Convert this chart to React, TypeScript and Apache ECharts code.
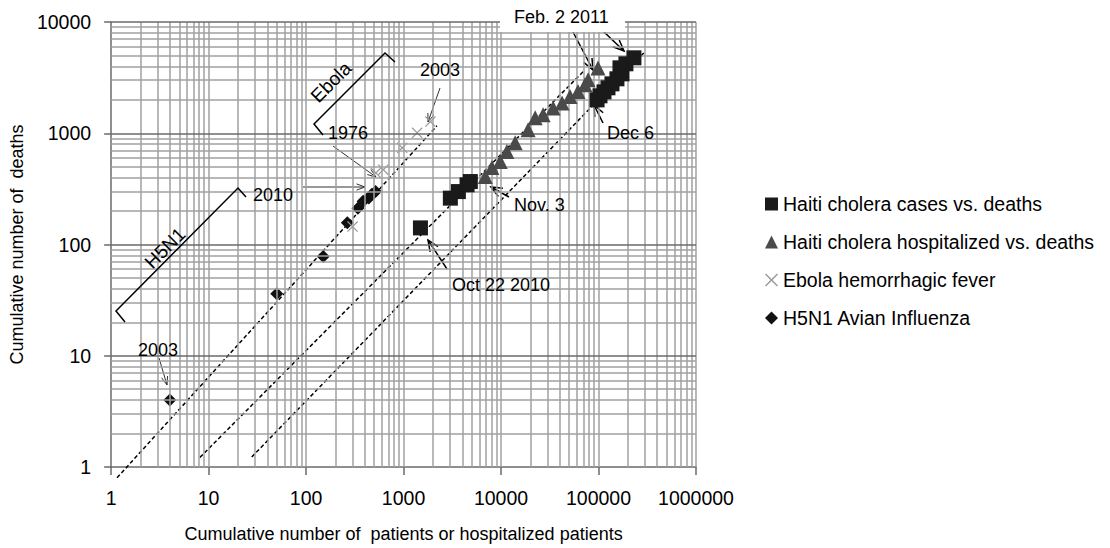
import React, { useEffect, useRef } from "react";
import * as echarts from "echarts";

// ---- data ----
const casesVsDeaths: [number, number][] = [
  [1490, 141], [3020, 261], [3650, 299], [4480, 344], [4840, 368],
  [96600, 1995], [103500, 2170], [113800, 2355], [125000, 2560], [137400, 2780],
  [154500, 3085], [166000, 3873], [174000, 3420], [191000, 4210], [230800, 4765],
];
const hospitalizedVsDeaths: [number, number][] = [
  [6890, 408], [8070, 491], [9820, 557], [11480, 685], [13970, 820],
  [18970, 1073], [22390, 1376], [27040, 1463], [34200, 1690], [42300, 1875],
  [51000, 2138], [61600, 2370], [72700, 2723], [78200, 3020], [98800, 3850],
];
const ebola: [number, number][] = [
  [300, 145], [520, 440], [620, 470], [968, 739], [1377, 1009], [1885, 1274],
];
const h5n1: [number, number][] = [
  [4, 4], [50, 36], [150, 78], [265, 157], [340, 212], [385, 245], [440, 262], [470, 282], [516, 299],
];
const trendOutbreaks: [number, number][] = [[1.15, 0.8], [2200, 1167]];
const trendHospitalized: [number, number][] = [[8.15, 1.22], [69900, 3590]];
const trendCases: [number, number][] = [[27.7, 1.23], [299000, 5395]];

const seriesNames = [
  "Haiti cholera cases vs. deaths",
  "Haiti cholera hospitalized vs. deaths",
  "Ebola hemorrhagic fever",
  "H5N1 Avian Influenza",
];
const xDecades = [1, 10, 100, 1000, 10000, 100000];
const yDecades = [1, 10, 100, 1000];
const multiples = [2, 3, 4, 5, 6, 7, 8, 9, 10];

const FONT = "'Liberation Sans', Arial, sans-serif";
const X_SHAPE = "path://M0,0.8 L0.8,0 L5,4.2 L9.2,0 L10,0.8 L5.8,5 L10,9.2 L9.2,10 L5,5.8 L0.8,10 L0,9.2 L4.2,5 Z";

function arrow(x1: number, y1: number, x2: number, y2: number, head: number, width: number, color: string, spread: number) {
  const ang = Math.atan2(y2 - y1, x2 - x1);
  const l = [x2 - head * Math.cos(ang - spread), y2 - head * Math.sin(ang - spread)];
  const r = [x2 - head * Math.cos(ang + spread), y2 - head * Math.sin(ang + spread)];
  return {
    type: "group",
    z: 110,
    children: [
      { type: "polyline", shape: { points: [[x1, y1], [x2, y2]] }, style: { stroke: color, lineWidth: width, fill: null } },
      { type: "polyline", shape: { points: [l, [x2, y2], r] }, style: { stroke: color, lineWidth: width, fill: null } },
    ],
  };
}

function label(text: string, x: number, y: number, size = 18, rotation = 0, align = "left") {
  return {
    type: "text",
    x,
    y,
    rotation,
    z: 120,
    style: { text, fontSize: size, fontFamily: FONT, fill: "#000", align, verticalAlign: "middle" },
  };
}

export default function App() {
  const ref = useRef<HTMLDivElement>(null);
  useEffect(() => {
    if (!ref.current) return;
    const chart = echarts.init(ref.current, undefined, { renderer: "svg" });
    const vLines: any[] = [];
    xDecades.forEach((d) => multiples.forEach((m) => vLines.push({ xAxis: d * m })));
    const hLines: any[] = [];
    yDecades.forEach((d) =>
      multiples.forEach((m) =>
        hLines.push(m === 10 ? { yAxis: d * m, lineStyle: { color: "#6a6a6a", width: 1.5 } } : { yAxis: d * m })
      )
    );
    const thin = "#333";
    const option: any = {
      animation: false,
      backgroundColor: "#fff",
      grid: { left: 110, right: 414, top: 22, bottom: 81, containLabel: false },
      xAxis: {
        type: "log",
        logBase: 10,
        min: 1,
        max: 1000000,
        name: "Cumulative number of  patients or hospitalized patients",
        nameLocation: "middle",
        nameGap: 58,
        nameTextStyle: { fontSize: 18, fontFamily: FONT, color: "#000" },
        axisLine: { show: true, lineStyle: { color: "#6a6a6a", width: 1.5 } },
        axisTick: { show: true, length: 8, inside: false, lineStyle: { color: "#6a6a6a", width: 1.5 } },
        axisLabel: {
          fontSize: 19.5,
          fontFamily: FONT,
          color: "#000",
          margin: 21,
          formatter: (v: number) => String(Math.round(v)),
        },
        splitLine: { show: false },
      },
      yAxis: {
        type: "log",
        logBase: 10,
        min: 1,
        max: 10000,
        name: "Cumulative number of  deaths",
        nameLocation: "middle",
        nameGap: 84,
        nameRotate: 90,
        nameTextStyle: { fontSize: 18, fontFamily: FONT, color: "#000" },
        axisLine: { show: true, lineStyle: { color: "#6a6a6a", width: 1.5 } },
        axisTick: { show: true, length: 7, inside: false, lineStyle: { color: "#6a6a6a", width: 1.5 } },
        axisLabel: {
          fontSize: 19.5,
          fontFamily: FONT,
          color: "#000",
          margin: 20,
          formatter: (v: number) => String(Math.round(v)),
        },
        splitLine: { show: false },
      },
      legend: {
        show: true,
        orient: "vertical",
        left: 760,
        top: 189,
        itemWidth: 13,
        itemHeight: 13,
        itemGap: 18,
        selectedMode: false,
        data: seriesNames,
        textStyle: { fontSize: 19.5, fontFamily: FONT, color: "#000" },
      },
      series: [
        {
          name: "grid",
          type: "line",
          data: [],
          z: 0,
          silent: true,
          markLine: {
            silent: true,
            animation: false,
            symbol: ["none", "none"],
            label: { show: false },
            lineStyle: { color: "#a0a0a0", width: 1.5, type: "solid" },
            data: [...vLines, ...hLines],
          },
        },
        ...[trendOutbreaks, trendHospitalized, trendCases].map((d, i) => ({
          name: "trend" + i,
          type: "line",
          data: d,
          symbol: "none",
          showSymbol: false,
          clip: false,
          silent: true,
          z: 3,
          lineStyle: { color: "#000", width: 1.5, type: [4, 2.5] },
        })),
        {
          name: seriesNames[3],
          type: "scatter",
          data: h5n1,
          symbol: "diamond",
          symbolSize: 13,
          itemStyle: { color: "#111", opacity: 1 },
          z: 4,
        },
        {
          name: seriesNames[2],
          type: "scatter",
          data: ebola,
          symbol: X_SHAPE,
          symbolSize: 11,
          itemStyle: { color: "#9a9a9a", opacity: 1 },
          z: 4,
        },
        {
          name: seriesNames[1],
          type: "scatter",
          data: hospitalizedVsDeaths,
          symbol: "triangle",
          symbolSize: 15,
          itemStyle: { color: "#4a4a4a", opacity: 1 },
          z: 5,
        },
        {
          name: seriesNames[0],
          type: "scatter",
          data: casesVsDeaths,
          symbol: "rect",
          symbolSize: 15,
          itemStyle: { color: "#1a1a1a", opacity: 1 },
          z: 6,
        },
      ],
      graphic: [
        // brackets
        { type: "polyline", z: 110, shape: { points: [[125, 322], [116, 311], [238, 188], [246, 197]] }, style: { stroke: "#000", lineWidth: 1.5, fill: null } },
        { type: "polyline", z: 110, shape: { points: [[323, 135], [314, 124], [385, 53], [395, 62]] }, style: { stroke: "#000", lineWidth: 1.5, fill: null } },
        label("H5N1", 165, 248, 19, Math.PI / 4, "center"),
        label("Ebola", 331, 82, 19, Math.PI / 4, "center"),
        // thin arrows
        arrow(303, 187, 365, 187, 9, 1, thin, 0.35),
        arrow(333, 146, 376, 177, 9, 1, thin, 0.35),
        arrow(440, 88, 428, 122, 9, 1, thin, 0.35),
        arrow(159, 358, 167, 385, 9, 1, thin, 0.35),
        label("2010", 253, 195),
        label("1976", 328, 133),
        label("2003", 420, 70),
        label("2003", 138, 350),
        // white box for Feb label
        { type: "rect", z: 105, shape: { x: 500, y: 0, width: 125, height: 32 }, style: { fill: "#fff" } },
        // thick arrows
        arrow(447, 269, 428, 240, 12, 1.5, "#000", 0.4),
        arrow(509, 197, 491, 187, 12, 1.5, "#000", 0.4),
        arrow(603, 123, 594, 105, 12, 1.5, "#000", 0.4),
        arrow(573, 32, 593, 70, 12, 1.5, "#000", 0.4),
        arrow(603, 31, 624, 51, 12, 1.5, "#000", 0.4),
        label("Oct 22 2010", 452, 285),
        label("Nov. 3", 514, 205),
        label("Dec 6", 607, 133),
        label("Feb. 2 2011", 514, 17),
      ],
    };
    chart.setOption(option);
    return () => chart.dispose();
  }, []);
  return (
    <div
      ref={ref}
      style={{ position: "fixed", left: 0, top: 0, width: 1110, height: 548, background: "#fff" }}
    />
  );
}
